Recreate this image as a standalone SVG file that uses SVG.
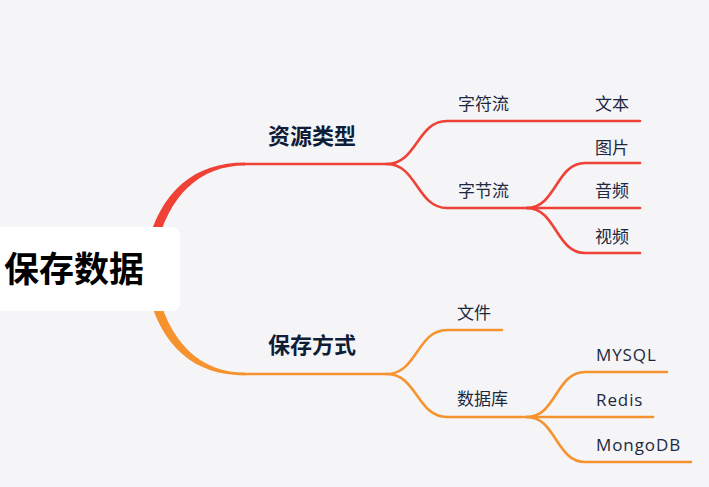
<svg xmlns="http://www.w3.org/2000/svg" width="709" height="487" viewBox="0 0 709 487">
<style>
.cjk{font-family:"Noto Sans CJK SC","Noto Sans",sans-serif;}
.main{font-size:22px;font-weight:bold;fill:#101d36;}
.sub{font-size:17px;fill:#1c2840;}
.lat{font-family:"Open Sans","Noto Sans",sans-serif;font-size:17px;letter-spacing:0.9px;fill:#1c2840;}
.r{stroke:#ef4136;fill:none;stroke-width:2.6;stroke-linecap:round;}
.o{stroke:#f7932e;fill:none;stroke-width:2.6;stroke-linecap:round;}
</style>
<rect width="709" height="487" fill="#f5f5f8"/>
<g id="connectors">
  <path d="M146 250 C160 190 195 162.6 245 162.6 L245 165.4 C200 165.4 168 195 156 250 Z" fill="#ef4136"/>
  <path d="M245 164 L387 164" class="r"/>
  <path d="M387 164 C417 164 417 121 447 121 L640 121" class="r"/>
  <path d="M387 164 C417 164 417 208 447 208 L527 208" class="r"/>
  <path d="M527 208 C556 208 556 163 585 163 L640 163" class="r"/>
  <path d="M527 208 L640 208" class="r"/>
  <path d="M527 208 C556 208 556 253 585 253 L640 253" class="r"/>
  <path d="M146 285 C160 348 195 375.4 245 375.4 L245 372.6 C200 372.6 168 342 156 285 Z" fill="#f7932e"/>
  <path d="M245 374 L387 374" class="o"/>
  <path d="M387 374 C417 374 417 330 447 330 L502 330" class="o"/>
  <path d="M387 374 C417 374 417 417 447 417 L527 417" class="o"/>
  <path d="M527 417 C556 417 556 372 585 372 L667 372" class="o"/>
  <path d="M527 417 L653 417" class="o"/>
  <path d="M527 417 C556 417 556 462 585 462 L691 462" class="o"/>
</g>
<g id="root">
  <rect x="-10" y="227" width="190" height="84" rx="8" fill="#ffffff"/>
  <text x="4" y="281.5" class="cjk" font-size="35" font-weight="bold" fill="#000000">保存数据</text>
</g>
<g id="n-ziyuan"><text x="268" y="144" class="cjk main">资源类型</text></g>
<g id="n-zifuliu"><text x="458" y="109.5" class="cjk sub">字符流</text></g>
<g id="n-wenben"><text x="595" y="109.5" class="cjk sub">文本</text></g>
<g id="n-zijieliu"><text x="458" y="197" class="cjk sub">字节流</text></g>
<g id="n-tupian"><text x="595" y="154" class="cjk sub">图片</text></g>
<g id="n-yinpin"><text x="595" y="197" class="cjk sub">音频</text></g>
<g id="n-shipin"><text x="595" y="243" class="cjk sub">视频</text></g>
<g id="n-baocun"><text x="268" y="353" class="cjk main">保存方式</text></g>
<g id="n-wenjian"><text x="457" y="319" class="cjk sub">文件</text></g>
<g id="n-shujuku"><text x="457" y="405" class="cjk sub">数据库</text></g>
<g id="n-mysql"><text x="596" y="361" class="lat">MYSQL</text></g>
<g id="n-redis"><text x="596" y="406" class="lat">Redis</text></g>
<g id="n-mongodb"><text x="596" y="451" class="lat">MongoDB</text></g>
</svg>
